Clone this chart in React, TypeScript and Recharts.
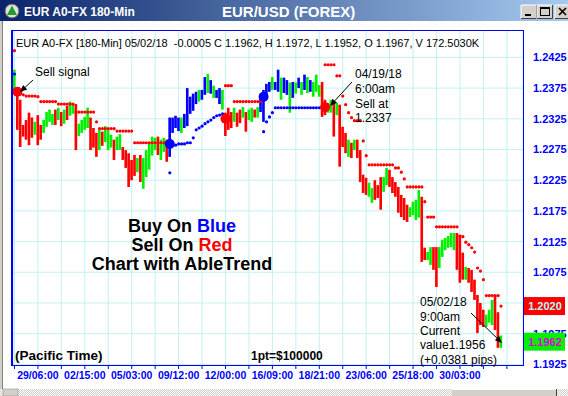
import { Bar, CartesianGrid, Cell, ComposedChart, Line, XAxis, YAxis } from "recharts";

// EUR/USD 180-min bars, 29 Mar - 2 May 2018
const barHigh = [
  1.2405, 1.2369, 1.2356, 1.2315, 1.2323, 1.2335, 1.2327, 1.2320, 1.2331, 1.2315,
  1.2323, 1.2336, 1.2340, 1.2333, 1.2340, 1.2343, 1.2336, 1.2340, 1.2346, 1.2353,
  1.2349, 1.2349, 1.2317, 1.2323, 1.2328, 1.2343, 1.2327, 1.2310, 1.2302, 1.2307,
  1.2304, 1.2313, 1.2307, 1.2299, 1.2291, 1.2296, 1.2300, 1.2279, 1.2274, 1.2269,
  1.2258, 1.2266, 1.2261, 1.2266, 1.2261, 1.2274, 1.2284, 1.2296, 1.2294, 1.2296,
  1.2291, 1.2294, 1.2291, 1.2327, 1.2327, 1.2330, 1.2327, 1.2327, 1.2333, 1.2375,
  1.2361, 1.2366, 1.2369, 1.2372, 1.2372, 1.2393, 1.2398, 1.2388, 1.2379, 1.2372,
  1.2375, 1.2372, 1.2335, 1.2343, 1.2336, 1.2343, 1.2335, 1.2340, 1.2344, 1.2336,
  1.2340, 1.2343, 1.2340, 1.2344, 1.2364, 1.2372, 1.2382, 1.2385, 1.2393, 1.2385,
  1.2405, 1.2392, 1.2392, 1.2388, 1.2384, 1.2385, 1.2384, 1.2392, 1.2385, 1.2397,
  1.2393, 1.2388, 1.2385, 1.2397, 1.2380, 1.2385, 1.2356, 1.2351, 1.2356, 1.2353,
  1.2351, 1.2348, 1.2312, 1.2302, 1.2291, 1.2286, 1.2291, 1.2291, 1.2274, 1.2234,
  1.2229, 1.2221, 1.2212, 1.2225, 1.2217, 1.2230, 1.2230, 1.2245, 1.2242, 1.2230,
  1.2222, 1.2214, 1.2201, 1.2196, 1.2185, 1.2181, 1.2190, 1.2193, 1.2209, 1.2198,
  1.2115, 1.2108, 1.2116, 1.2116, 1.2116, 1.2116, 1.2128, 1.2131, 1.2134, 1.2139,
  1.2139, 1.2139, 1.2136, 1.2107, 1.2084, 1.2082, 1.2079, 1.2063, 1.2038, 1.2025,
  1.2014, 1.2006, 1.2014, 1.2030, 1.2037, 1.2010, 1.1972,
];

const barLow = [
  1.2372, 1.2307, 1.2279, 1.2296, 1.2291, 1.2282, 1.2294, 1.2299, 1.2282, 1.2291,
  1.2302, 1.2312, 1.2320, 1.2315, 1.2315, 1.2323, 1.2313, 1.2317, 1.2323, 1.2330,
  1.2333, 1.2274, 1.2297, 1.2302, 1.2307, 1.2310, 1.2274, 1.2278, 1.2263, 1.2274,
  1.2281, 1.2287, 1.2274, 1.2278, 1.2258, 1.2274, 1.2274, 1.2258, 1.2245, 1.2214,
  1.2225, 1.2232, 1.2238, 1.2222, 1.2211, 1.2230, 1.2242, 1.2265, 1.2274, 1.2266,
  1.2258, 1.2271, 1.2255, 1.2263, 1.2302, 1.2310, 1.2305, 1.2302, 1.2310, 1.2313,
  1.2333, 1.2338, 1.2349, 1.2353, 1.2356, 1.2364, 1.2367, 1.2366, 1.2359, 1.2359,
  1.2349, 1.2340, 1.2297, 1.2307, 1.2310, 1.2320, 1.2312, 1.2318, 1.2327, 1.2304,
  1.2323, 1.2320, 1.2327, 1.2327, 1.2336, 1.2320, 1.2362, 1.2369, 1.2372, 1.2372,
  1.2369, 1.2356, 1.2367, 1.2364, 1.2335, 1.2359, 1.2366, 1.2375, 1.2364, 1.2372,
  1.2367, 1.2369, 1.2361, 1.2369, 1.2361, 1.2328, 1.2331, 1.2335, 1.2335, 1.2296,
  1.2331, 1.2247, 1.2279, 1.2269, 1.2263, 1.2261, 1.2274, 1.2261, 1.2222, 1.2204,
  1.2201, 1.2198, 1.2188, 1.2193, 1.2196, 1.2177, 1.2206, 1.2217, 1.2214, 1.2204,
  1.2198, 1.2172, 1.2165, 1.2160, 1.2157, 1.2165, 1.2168, 1.2160, 1.2164, 1.2092,
  1.2095, 1.2095, 1.2087, 1.2079, 1.2051, 1.2082, 1.2100, 1.2111, 1.2115, 1.2116,
  1.2111, 1.2079, 1.2058, 1.2063, 1.2063, 1.2058, 1.2043, 1.2030, 1.1976, 1.1989,
  1.1986, 1.1986, 1.1993, 1.1989, 1.1981, 1.1952, 1.1952,
];

// N = no trend (green), B = buy (blue), S = sell (red)
const barTrend = (
  "NSSSSSSNSS" + "NNNNSNSNSN" + "NSNNNNSSSN" + "SNNNSNNSSS" + "SSNSNNNNNS" +
  "NNSBBBBNBB" + "BBBNBBNBNB" + "BNSSSNSSNS" + "NNSNBBBBNB" + "BNBBNBNBNB" +
  "NBNNNSSNNS" + "NSSSNSNSSS" + "SNNSSSNNSS" + "SSSSSNNNNS" + "SNNSSNNNNN" +
  "NSSSNSSSSS" + "SNNNSSN"
).split("");

// trailing stop on each bar, side follows the last signal
const stopLevel = [
  1.2398, 1.2367, 1.2366, 1.2364, 1.2362, 1.2362, 1.2362, 1.2362, 1.2361, 1.2353,
  1.2353, 1.2353, 1.2353, 1.2353, 1.2353, 1.2349, 1.2349, 1.2349, 1.2349, 1.2349,
  1.2349, 1.2336, 1.2336, 1.2336, 1.2336, 1.2336, 1.2336, 1.2336, 1.2320, 1.2309,
  1.2309, 1.2309, 1.2309, 1.2309, 1.2309, 1.2305, 1.2305, 1.2305, 1.2305, 1.2305,
  1.2305, 1.2286, 1.2286, 1.2286, 1.2286, 1.2286, 1.2286, 1.2286, 1.2286, 1.2286,
  1.2286, 1.2286, 1.2286, 1.2237, 1.2282, 1.2282, 1.2284, 1.2284, 1.2284, 1.2286,
  1.2286, 1.2294, 1.2307, 1.2310, 1.2313, 1.2317, 1.2320, 1.2323, 1.2327, 1.2330,
  1.2331, 1.2333, 1.2379, 1.2379, 1.2379, 1.2353, 1.2353, 1.2353, 1.2353, 1.2353,
  1.2353, 1.2353, 1.2353, 1.2353, 1.2353, 1.2304, 1.2320, 1.2328, 1.2335, 1.2343,
  1.2343, 1.2343, 1.2343, 1.2343, 1.2343, 1.2343, 1.2343, 1.2343, 1.2343, 1.2343,
  1.2343, 1.2343, 1.2343, 1.2343, 1.2343, 1.2343, 1.2413, 1.2413, 1.2413, 1.2413,
  1.2395, 1.2395, 1.2362, 1.2348, 1.2335, 1.2327, 1.2322, 1.2322, 1.2322, 1.2289,
  1.2265, 1.2250, 1.2250, 1.2250, 1.2250, 1.2250, 1.2250, 1.2250, 1.2250, 1.2250,
  1.2245, 1.2245, 1.2238, 1.2227, 1.2214, 1.2214, 1.2214, 1.2214, 1.2214, 1.2214,
  1.2190, 1.2165, 1.2165, 1.2165, 1.2149, 1.2149, 1.2149, 1.2149, 1.2149, 1.2149,
  1.2149, 1.2149, 1.2134, 1.2133, 1.2124, 1.2120, 1.2115, 1.2108, 1.2082, 1.2077,
  1.2063, 1.2037, 1.2037, 1.2037, 1.2037, 1.2037, 1.2020,
];
const priorSellStop = 1.2436;

const signals = [
  { bar: 1, side: "sell", price: 1.2369 },
  { bar: 53, side: "buy", price: 1.2284 },
  { bar: 72, side: "sell", price: 1.2325 },
  { bar: 85, side: "buy", price: 1.2361 },
  { bar: 106, side: "sell", price: 1.2344 },
];

const priceTicks = [1.1925, 1.1975, 1.2025, 1.2075, 1.2125, 1.2175, 1.2225, 1.2275, 1.2325, 1.2375, 1.2425];
const timeLabels = ["29/06:00", "02/15:00", "05/03:00", "09/12:00", "12/00:00", "16/09:00", "18/21:00", "23/06:00", "25/18:00", "30/03:00"];
const emptySlots = 7;
const currentStop = 1.202;
const lastClose = 1.1962;

const FONT = "'Liberation Sans', Arial, sans-serif";
const BLUE = "#0000ff";
const trendColor: Record<string, string> = { N: "#00f000", S: "#ff0000", B: "#0000ff" };
const tagStyle: Record<string, { bg: string; color: string }> = {
  [String(currentStop)]: { bg: "#ff0000", color: "#a8ffff" },
  [String(lastClose)]: { bg: "#00f000", color: "#e000e0" },
};
const tagValues = [currentStop, lastClose];

const sideAt = (i: number) => {
  let side = "buy";
  for (const s of signals) if (s.bar <= i) side = s.side;
  return side;
};

const rows: any[] = [];
for (let i = 0; i < barHigh.length + emptySlots; i++) {
  if (i >= barHigh.length) {
    rows.push({ slot: i });
    continue;
  }
  const side = sideAt(i);
  const sig = signals.find((s) => s.bar === i);
  rows.push({
    slot: i,
    range: [barLow[i], barHigh[i]],
    trend: barTrend[i],
    sellStop: side === "sell" ? stopLevel[i] : i === 0 ? priorSellStop : null,
    buyStop: side === "buy" ? stopLevel[i] : null,
    sellSignal: sig && sig.side === "sell" ? sig.price : null,
    buySignal: sig && sig.side === "buy" ? sig.price : null,
  });
}

// price labels; the current stop and last close get coloured boxes drawn over the axis
function PriceTick({ x, y, payload }: any) {
  const v = payload.value as number;
  const tag = tagStyle[String(v)];
  if (tag) {
    return (
      <g>
        <rect x={x - 9} y={y - 9} width={41} height={18} fill={tag.bg} />
        <text x={x + 12} y={y} dy="0.36em" textAnchor="middle" fill={tag.color} fontSize={11} fontWeight="bold" fontFamily={FONT}>
          {v.toFixed(4)}
        </text>
      </g>
    );
  }
  // a label sitting right under a box is fully hidden by it
  if (tagValues.some((t) => Math.abs(t - v) < 0.0008)) return <g />;
  return (
    <text x={x} y={y} dy="0.36em" textAnchor="start" fill={BLUE} fontSize={11} fontWeight="bold" fontFamily={FONT}>
      {v.toFixed(4)}
    </text>
  );
}

function Arrow({ x1, y1, x2, y2 }: { x1: number; y1: number; x2: number; y2: number }) {
  const a = Math.atan2(y2 - y1, x2 - x1);
  const bx = x2 - 7 * Math.cos(a);
  const by = y2 - 7 * Math.sin(a);
  const px = -Math.sin(a) * 3;
  const py = Math.cos(a) * 3;
  return (
    <g>
      <line x1={x1} y1={y1} x2={bx} y2={by} stroke="#000" strokeWidth={1} />
      <polygon points={`${x2},${y2} ${bx + px},${by + py} ${bx - px},${by - py}`} fill="#000" />
    </g>
  );
}

function WinButton({ x, kind }: { x: number; kind: string }) {
  return (
    <g>
      <rect x={x} y={5} width={16} height={14} fill="#d4d0c8" />
      <path d={`M${x} ${19}V5H${x + 16}`} stroke="#fff" fill="none" />
      <path d={`M${x} ${18.5}H${x + 15.5}V5`} stroke="#404040" fill="none" />
      {kind === "min" && <rect x={x + 4} y={14} width={6} height={2} fill="#000" />}
      {kind === "max" && (
        <g>
          <rect x={x + 3.5} y={7.5} width={9} height={8} fill="none" stroke="#000" />
          <rect x={x + 3} y={7} width={10} height={2} fill="#000" />
        </g>
      )}
      {kind === "close" && (
        <path d={`M${x + 4} 8L${x + 11} 15M${x + 11} 8L${x + 4} 15`} stroke="#000" strokeWidth={1.6} />
      )}
    </g>
  );
}

const txt = { fontFamily: FONT, fill: "#000" };

export default function App() {
  return (
    <div style={{ position: "absolute", left: 0, top: 0, width: 568, height: 396, overflow: "hidden", background: "#fff" }}>
      <ComposedChart width={568} height={396} data={rows} margin={{ top: 31, right: 0, bottom: 0, left: 13 }}>
        <CartesianGrid stroke="#bff2f2" horizontalValues={priceTicks} />
        <XAxis
          dataKey="slot"
          interval={7}
          height={31}
          axisLine={false}
          tickSize={4}
          tickMargin={3}
          tickLine={{ stroke: BLUE }}
          tick={{ fill: BLUE, fontSize: 10.5, fontWeight: 700, fontFamily: FONT }}
          tickFormatter={(v: number) => ((v - 8) % 16 === 0 ? timeLabels[(v - 8) / 16] ?? "" : "")}
        />
        <YAxis
          orientation="right"
          width={45}
          type="number"
          domain={[1.1924, 1.2468]}
          allowDataOverflow
          ticks={[...priceTicks, currentStop, lastClose]}
          interval={0}
          axisLine={false}
          tickLine={false}
          tickSize={0}
          tickMargin={10}
          tick={<PriceTick />}
        />
        <Bar dataKey="range" barSize={3} isAnimationActive={false}>
          {rows.map((r) => (
            <Cell key={r.slot} fill={trendColor[r.trend] ?? "none"} />
          ))}
        </Bar>
        <Line dataKey="sellStop" stroke="none" dot={{ r: 1.6, fill: "#ff0000", stroke: "none" }} activeDot={false} isAnimationActive={false} />
        <Line dataKey="buyStop" stroke="none" dot={{ r: 1.6, fill: BLUE, stroke: "none" }} activeDot={false} isAnimationActive={false} />
        <Line dataKey="sellSignal" stroke="none" dot={{ r: 5, fill: "#ff0000", stroke: "none" }} activeDot={false} isAnimationActive={false} />
        <Line dataKey="buySignal" stroke="none" dot={{ r: 5, fill: BLUE, stroke: "none" }} activeDot={false} isAnimationActive={false} />
      </ComposedChart>

      <div
        style={{
          position: "absolute",
          left: 11,
          top: 30,
          width: 513,
          height: 336,
          boxSizing: "border-box",
          border: `1px solid ${BLUE}`,
          borderLeftWidth: 2,
          pointerEvents: "none",
        }}
      />

      <svg width={568} height={396} style={{ position: "absolute", left: 0, top: 0, pointerEvents: "none" }}>
        <defs>
          <linearGradient id="titleGrad" x1="0" x2="1" y1="0" y2="0">
            <stop offset="0" stopColor="#0a246a" />
            <stop offset="1" stopColor="#a6caf0" />
          </linearGradient>
          <pattern id="dither" width={2} height={2} patternUnits="userSpaceOnUse">
            <rect width={2} height={2} fill="#d4d0c8" />
            <rect width={1} height={1} fill="#fff" />
            <rect x={1} y={1} width={1} height={1} fill="#fff" />
          </pattern>
        </defs>

        {/* window chrome */}
        <rect x={0} y={0} width={568} height={21} fill="url(#titleGrad)" />
        <rect x={0} y={21} width={3} height={375} fill="#d4d0c8" />
        <rect x={2} y={21} width={1} height={368} fill="#808080" />
        <rect x={0} y={389} width={568} height={7} fill="url(#dither)" />
        <rect x={3} y={389} width={15} height={7} fill="#d4d0c8" stroke="#808080" strokeWidth={0.5} />
        <rect x={452} y={389} width={104} height={7} fill="#d4d0c8" />
        <line x1={452} y1={389.5} x2={556} y2={389.5} stroke="#fff" />
        <line x1={556.5} y1={389} x2={556.5} y2={396} stroke="#404040" />
        <circle cx={12} cy={11} r={7} fill="#e0e0e0" stroke="#555" />
        <polygon points="12,5.5 17,15 7,15" fill="#1f9e2a" />
        <text x={24} y={15.5} fontSize={12} fontWeight="bold" fill="#fff" fontFamily={FONT}>
          EUR A0-FX 180-Min
        </text>
        <text x={222} y={16.5} fontSize={15} fontWeight="bold" fill="#fff" fontFamily={FONT}>
          EUR/USD (FOREX)
        </text>
        <WinButton x={521} kind="min" />
        <WinButton x={537} kind="max" />
        <WinButton x={555} kind="close" />

        {/* header line */}
        <text x={16} y={47} fontSize={11} style={{ whiteSpace: "pre" }} {...txt}>
          EUR A0-FX [180-Min] 05/02/18  -0.0005 C 1.1962, H 1.1972, L 1.1952, O 1.1967, V 172.5030K
        </text>

        {/* annotations */}
        <text x={35} y={76} fontSize={12} {...txt}>Sell signal</text>
        <Arrow x1={33} y1={80} x2={20} y2={92} />

        <g fontSize={12} {...txt}>
          <text x={355} y={78}>04/19/18</text>
          <text x={355} y={92.5}>6:00am</text>
          <text x={355} y={107.5}>Sell at</text>
          <text x={355} y={122}>1.2337</text>
        </g>
        <Arrow x1={352} y1={82} x2={330} y2={106} />

        <g fontSize={12} {...txt}>
          <text x={420} y={306}>05/02/18</text>
          <text x={420} y={320.5}>9:00am</text>
          <text x={420} y={335}>Current</text>
          <text x={420} y={349}>value1.1956</text>
          <text x={420} y={364}>(+0.0381 pips)</text>
        </g>
        <Arrow x1={471} y1={313} x2={502} y2={343} />

        <g fontSize={18} fontWeight="bold" textAnchor="middle" {...txt}>
          <text x={182} y={232}>
            Buy On <tspan fill={BLUE}>Blue</tspan>
          </text>
          <text x={182} y={251}>
            Sell On <tspan fill="#ff0000">Red</tspan>
          </text>
          <text x={182} y={270}>Chart with AbleTrend</text>
        </g>

        <text x={15} y={360} fontSize={13.5} fontWeight="bold" {...txt}>(Pacific Time)</text>
        <text x={251} y={360} fontSize={12} fontWeight="bold" {...txt}>1pt=$100000</text>
      </svg>
    </div>
  );
}
